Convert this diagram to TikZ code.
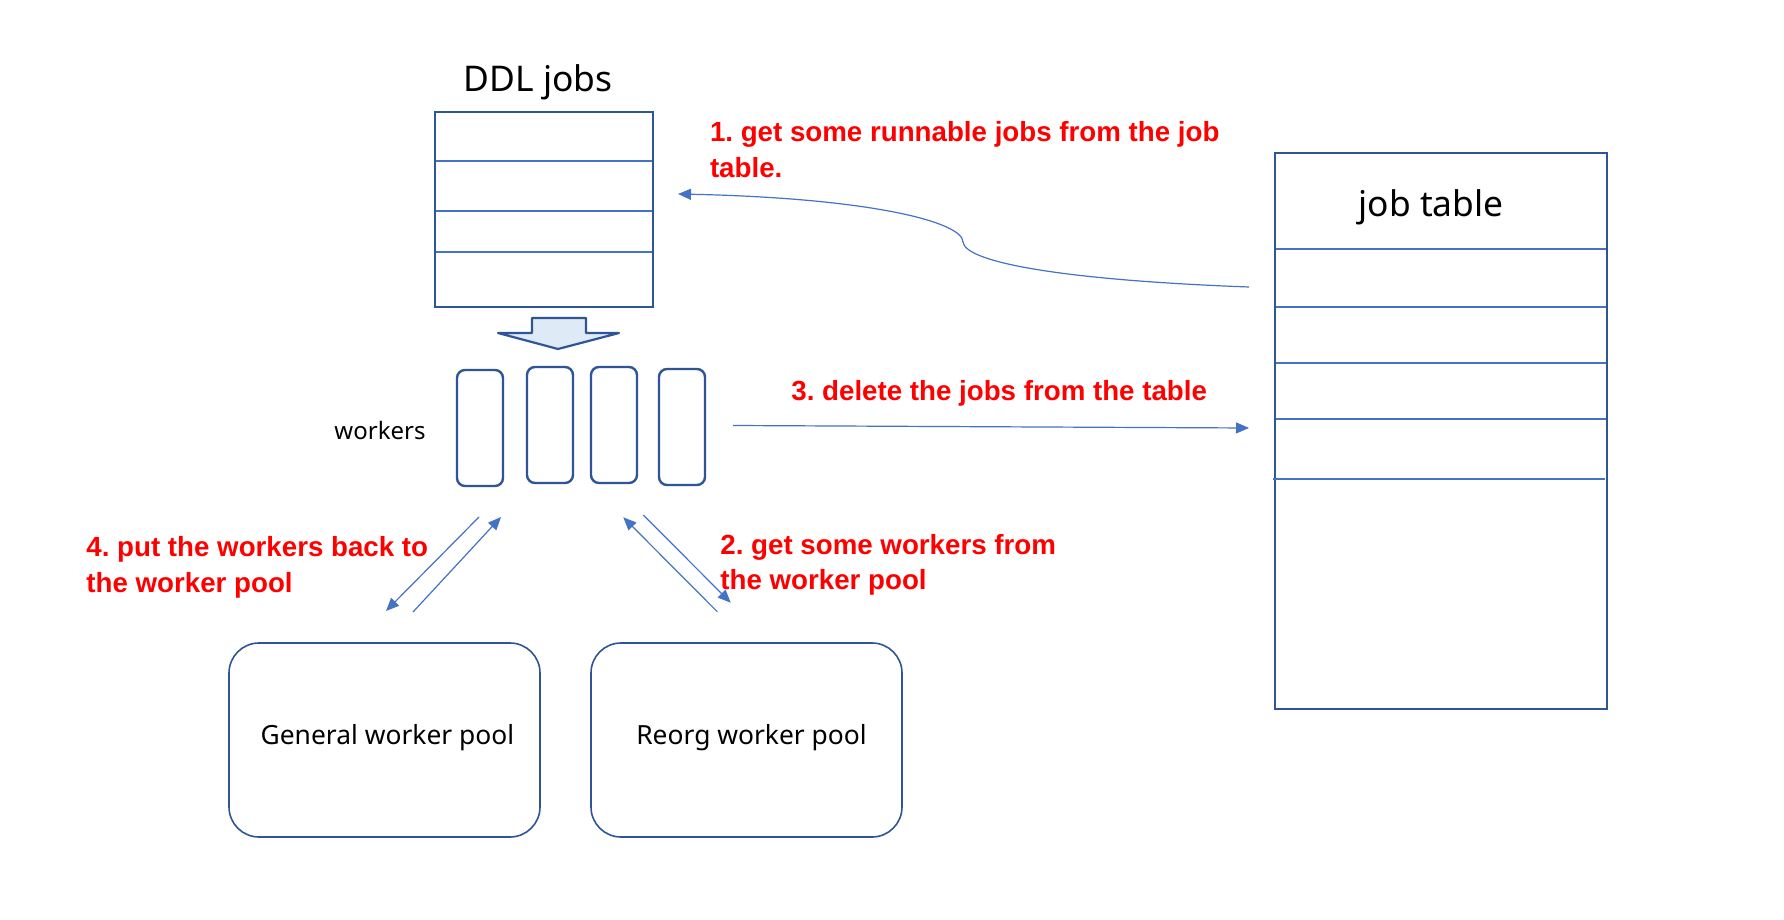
\documentclass[tikz,border=0pt]{standalone}
\usepackage{fontspec}
\setmainfont{Noto Sans}
\newfontfamily\redfont{Liberation Sans}
\usetikzlibrary{arrows.meta}
\definecolor{boxblue}{HTML}{2F5597}
\definecolor{lineblue}{HTML}{4472C4}
\definecolor{lightfill}{HTML}{DEEBF7}
\definecolor{labred}{HTML}{FF0000}
\frenchspacing
\begin{document}
\begin{tikzpicture}[x=0.5pt,y=-0.5pt,
  box/.style={draw=boxblue,line width=1.2pt,inner sep=0pt},
  rowline/.style={draw=lineblue,line width=1pt},
  worker/.style={draw=boxblue,line width=1.2pt,rounded corners=4pt,minimum width=23pt,minimum height=58pt,inner sep=0pt},
  pool/.style={draw=boxblue,line width=0.8pt,rounded corners=15pt,minimum width=155.5pt,minimum height=97pt,inner sep=0pt},
  pooltxt/.style={font=\fontsize{13.2}{16}\selectfont,inner sep=0pt},
  bigtxt/.style={font=\fontsize{17.7}{21}\selectfont,inner sep=0pt},
  redlab/.style={text=labred,font=\redfont\bfseries\fontsize{13.85}{17.65}\selectfont,align=left,inner sep=0pt},
  conn/.style={draw=lineblue,line width=0.6pt},
  arr/.style={conn,-{Triangle[length=6.5pt,width=5.5pt]}}]
\fill[white] (0,0) rectangle (1784,920);
\useasboundingbox (0,0) rectangle (1784,920);
% DDL jobs
\node[bigtxt,anchor=base] (ddlt) at (538,92) {DDL jobs};
\node[box,minimum width=109pt,minimum height=97.5pt] (ddl) at (544,209.5) {};
\foreach \yy in {161,211,252} \draw[rowline] (436,\yy) -- (652,\yy);
% block arrow
\draw[fill=lightfill,draw=boxblue,line width=1.1pt,line join=round]
  (532,318) -- (586,318) -- (586,333) -- (619,333) -- (558,349) -- (498,333) -- (532,333) -- cycle;
% workers
\node[font=\fontsize{12}{14}\selectfont,inner sep=0pt] (wl) at (380,430) {workers};
\node[worker] (w1) at (480,428) {};
\node[worker] (w2) at (550,425) {};
\node[worker] (w3) at (614,425) {};
\node[worker] (w4) at (682,427) {};
% job table
\node[box,minimum width=166pt,minimum height=278pt] (jt) at (1441,431) {};
\node[bigtxt,anchor=base] (jtt) at (1431,216) {job table};
\foreach \yy in {248.7,306.7,362.7,419} \draw[rowline] (1276,\yy) -- (1606,\yy);
\draw[rowline] (1273,479) -- (1605,479);
% pools
\node[pool] (gp) at (384.5,740) {};
\node[pool] (rp) at (746.5,740) {};
\node[pooltxt] (gpt) at (387.4,737.5) {General worker pool};
\node[pooltxt] (rpt) at (751.5,737.5) {Reorg worker pool};
% labels (base anchor = baseline of the last line)
\node[redlab,anchor=base west] (l1) at (709.6,177) {1. get some runnable jobs from the job\\table.};
\node[redlab,anchor=base west] (l2) at (720,589.5) {2. get some workers from\\the worker pool};
\node[redlab,anchor=base west] (l3) at (791,400) {3. delete the jobs from the table};
\node[redlab,anchor=base west] (l4) at (86,592) {4. put the workers back to\\the worker pool};
% connector end points
\coordinate (c1s) at (1249,287);
\coordinate (c1e) at (678,194);
\coordinate (c3s) at (733,425.5);
\coordinate (c3e) at (1249,428);
\coordinate (aAs) at (479,517);
\coordinate (aAe) at (386,611);
\coordinate (aBs) at (413,612);
\coordinate (aBe) at (501,517);
\coordinate (aCs) at (717.3,611.7);
\coordinate (aCe) at (623.3,517.3);
\coordinate (aDs) at (643.3,515);
\coordinate (aDe) at (730.7,602.7);
% connectors
\draw[arr] (c1s) .. controls (1060,280) and (965,262) .. (963,242) .. controls (963,222) and (870,198) .. (c1e);
\draw[arr] (c3s) -- (c3e);
\draw[arr] (aAs) -- (aAe);
\draw[arr] (aBs) -- (aBe);
\draw[arr] (aCs) -- (aCe);
\draw[arr] (aDs) -- (aDe);
\end{tikzpicture}
\end{document}
